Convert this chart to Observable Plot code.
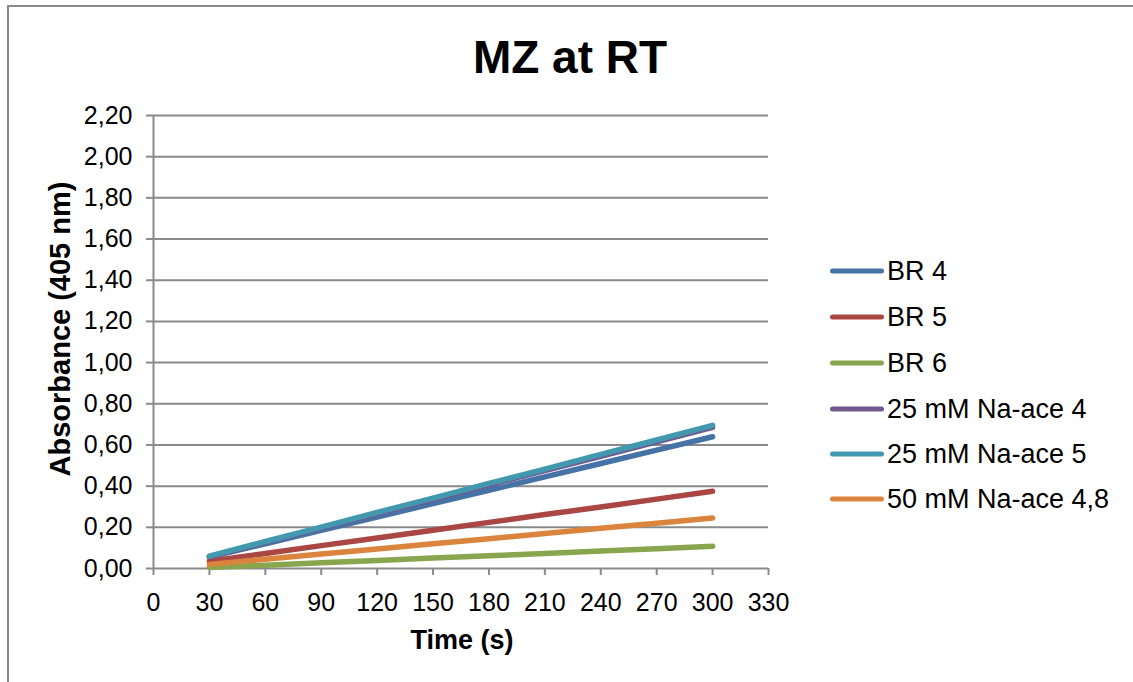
<!DOCTYPE html>
<html>
<head>
<meta charset="utf-8">
<script src="https://cdn.jsdelivr.net/npm/d3@7"></script>
<script src="https://cdn.jsdelivr.net/npm/@observablehq/plot@0.6"></script>
<style>
  html, body { margin: 0; padding: 0; background: #fff; }
  body { width: 1133px; height: 682px; position: relative; overflow: hidden; font-family: "Liberation Sans", Arial, sans-serif; }
  #frame { position: absolute; left: 7px; top: 5px; width: 1200px; height: 720px; border: 2px solid #8a8a8a; box-sizing: border-box; }
  #chart { position: absolute; left: 0; top: 0; }
  .title { position: absolute; font-weight: bold; font-size: 46px; color: #000; white-space: nowrap; transform: translate(-50%, -50%); }
  .axt { position: absolute; font-weight: bold; color: #000; white-space: nowrap; }
  #legend { position: absolute; left: 830px; top: 250px; }
  .lg { position: absolute; left: 0; white-space: nowrap; font-size: 27px; color: #000; display: flex; align-items: center; transform: translateY(-50%); }
  .lg .sw { width: 54px; height: 5px; border-radius: 3px; margin-right: 3px; }
</style>
</head>
<body>
<div id="frame"></div>
<div id="chart"></div>
<div class="title" style="left:570px; top:57px;">MZ at RT</div>
<div class="axt" style="left:462px; top:640px; font-size:27px; transform: translate(-50%,-50%);">Time (s)</div>
<div class="axt" style="left:60px; top:329px; font-size:29px; transform: translate(-50%,-50%) rotate(-90deg);">Absorbance (405 nm)</div>
<div id="legend"></div>
<script>
const times = [30, 60, 90, 120, 150, 180, 210, 240, 270, 300];
const seriesNames = ["BR 4", "BR 5", "BR 6", "25 mM Na-ace 4", "25 mM Na-ace 5", "50 mM Na-ace 4,8"];
const seriesColors = ["#4572A7", "#AA4643", "#89A54E", "#71588F", "#4198AF", "#DB843D"];
const br4 = [0.055, 0.120, 0.185, 0.250, 0.315, 0.380, 0.445, 0.510, 0.575, 0.640];
const br5 = [0.035, 0.073, 0.111, 0.148, 0.186, 0.224, 0.262, 0.299, 0.337, 0.375];
const br6 = [0.005, 0.016, 0.028, 0.039, 0.051, 0.062, 0.073, 0.085, 0.096, 0.108];
const naAce25_4 = [0.057, 0.127, 0.197, 0.266, 0.336, 0.406, 0.476, 0.545, 0.615, 0.685];
const naAce25_5 = [0.060, 0.131, 0.201, 0.272, 0.342, 0.413, 0.483, 0.554, 0.624, 0.695];
const naAce50_48 = [0.020, 0.045, 0.070, 0.095, 0.120, 0.145, 0.170, 0.195, 0.220, 0.245];
const xTicks = [0, 30, 60, 90, 120, 150, 180, 210, 240, 270, 300, 330];
const yTicks = [0, 0.2, 0.4, 0.6, 0.8, 1.0, 1.2, 1.4, 1.6, 1.8, 2.0, 2.2];

const seriesValues = [br4, br5, br6, naAce25_4, naAce25_5, naAce50_48];
const data = [];
seriesNames.forEach((name, i) => {
  seriesValues[i].forEach((v, j) => data.push({series: name, t: times[j], a: v}));
});

const fmtY = d => d3.format(".2f")(d).replace(".", ",");
const grid = "#8a8a8a";

const chart = Plot.plot({
  width: 790,
  height: 660,
  marginLeft: 153,
  marginRight: 22,
  marginTop: 115,
  marginBottom: 92,
  style: {fontFamily: "'Liberation Sans', Arial, sans-serif", fontSize: "25px", color: "#000", background: "transparent"},
  x: {domain: [0, 330]},
  y: {domain: [0, 2.2]},
  color: {domain: seriesNames, range: seriesColors},
  marks: [
    Plot.ruleY(yTicks, {stroke: grid, strokeWidth: 2}),
    Plot.ruleX([0], {stroke: grid, strokeWidth: 2}),
    Plot.axisY({ticks: yTicks, tickSize: 7, tickPadding: 14, tickFormat: fmtY, stroke: grid, strokeWidth: 2, fill: "#000", fontSize: 25, label: null}),
    Plot.axisX({ticks: xTicks, tickSize: 7, tickPadding: 18, stroke: grid, strokeWidth: 2, fill: "#000", fontSize: 25, label: null}),
    Plot.line(data, {x: "t", y: "a", z: "series", stroke: "series", strokeWidth: 5.5, strokeLinecap: "round", strokeLinejoin: "round"})
  ]
});
document.getElementById("chart").appendChild(chart);

const rowsY = [21, 67, 113, 159, 204, 249];
const legend = document.getElementById("legend");
seriesNames.forEach((name, i) => {
  const row = document.createElement("div");
  row.className = "lg";
  row.style.top = rowsY[i] + "px";
  const sw = document.createElement("span");
  sw.className = "sw";
  sw.style.background = seriesColors[i];
  const tx = document.createElement("span");
  tx.textContent = name;
  row.appendChild(sw);
  row.appendChild(tx);
  legend.appendChild(row);
});
</script>
</body>
</html>
